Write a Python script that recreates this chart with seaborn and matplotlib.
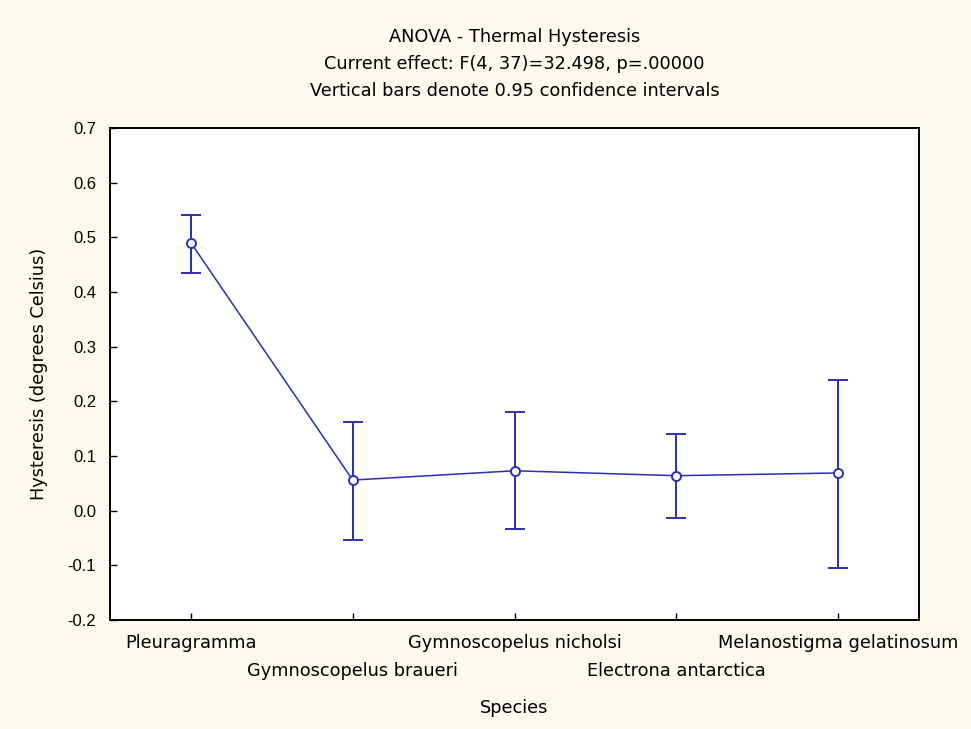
import numpy as np
import pandas as pd
import matplotlib
matplotlib.use('Agg')
import matplotlib.pyplot as plt
import seaborn as sns

# data
species = ['Pleuragramma', 'Gymnoscopelus braueri', 'Gymnoscopelus nicholsi',
           'Electrona antarctica', 'Melanostigma gelatinosum']
means = [0.490, 0.056, 0.073, 0.064, 0.069]
ci_low = [0.435, -0.054, -0.033, -0.013, -0.105]
ci_high = [0.540, 0.162, 0.181, 0.140, 0.239]
y_ticks = [-0.2, -0.1, 0.0, 0.1, 0.2, 0.3, 0.4, 0.5, 0.6, 0.7]

df = pd.DataFrame({'species': species, 'mean': means,
                   'lo': ci_low, 'hi': ci_high})

sns.set_style('white')
plt.rcParams['font.family'] = ['DejaVu Sans']
plt.rcParams['text.color'] = 'black'
plt.rcParams['axes.labelcolor'] = 'black'

line_col = '#2b2fb0'
txt_size = 12.8

fig = plt.figure(figsize=(9.71, 7.29), dpi=100)
fig.patch.set_facecolor('#fcf9ee')
ax = fig.add_axes([0.1133, 0.1495, 0.8332, 0.6749])
ax.set_facecolor('white')

sns.lineplot(data=df, x='species', y='mean', ax=ax, color=line_col,
             linewidth=1.1, sort=False, marker='o', markersize=6.5,
             markerfacecolor='white', markeredgecolor=line_col,
             markeredgewidth=1.4, zorder=3)

ax.errorbar(df['species'], df['mean'],
            yerr=[df['mean'] - df['lo'], df['hi'] - df['mean']],
            fmt='none', ecolor=line_col, elinewidth=1.4, capsize=7,
            capthick=1.4, zorder=2)

ax.set_xlim(-0.5, len(species) - 0.5)
ax.set_ylim(-0.2, 0.7)
ax.set_yticks(y_ticks)
ax.set_yticklabels([f'{v:.1f}' for v in y_ticks], fontfamily='Liberation Sans', fontsize=12)
ax.set_xticks(range(len(species)))
ax.set_xticklabels(species, fontsize=txt_size)

ax.tick_params(axis='both', direction='in', length=5, width=1,
               colors='black', pad=10)
ax.tick_params(axis='y', left=True)
ax.tick_params(axis='x', bottom=True)

# second row for the odd labels (staggered like the original)
for i, tick in enumerate(ax.xaxis.get_major_ticks()):
    if i % 2 == 1:
        tick.set_pad(10 + 20)

for sp in ax.spines.values():
    sp.set_color('black')
    sp.set_linewidth(1.4)

ax.set_xlabel('Species', fontsize=txt_size, labelpad=14)
ax.set_ylabel('Hysteresis (degrees Celsius)', fontsize=txt_size, labelpad=14)

cx = (0.1133 + 0.1133 + 0.8332) / 2
fig.text(cx, 1 - 37 / 729, 'ANOVA - Thermal Hysteresis', ha='center', va='center', fontsize=txt_size)
fig.text(cx, 1 - 64 / 729, 'Current effect: F(4, 37)=32.498, p=.00000', ha='center', va='center', fontsize=txt_size)
fig.text(cx, 1 - 91 / 729, 'Vertical bars denote 0.95 confidence intervals', ha='center', va='center', fontsize=txt_size)

fig.savefig('out.png', dpi=100, facecolor=fig.get_facecolor())
